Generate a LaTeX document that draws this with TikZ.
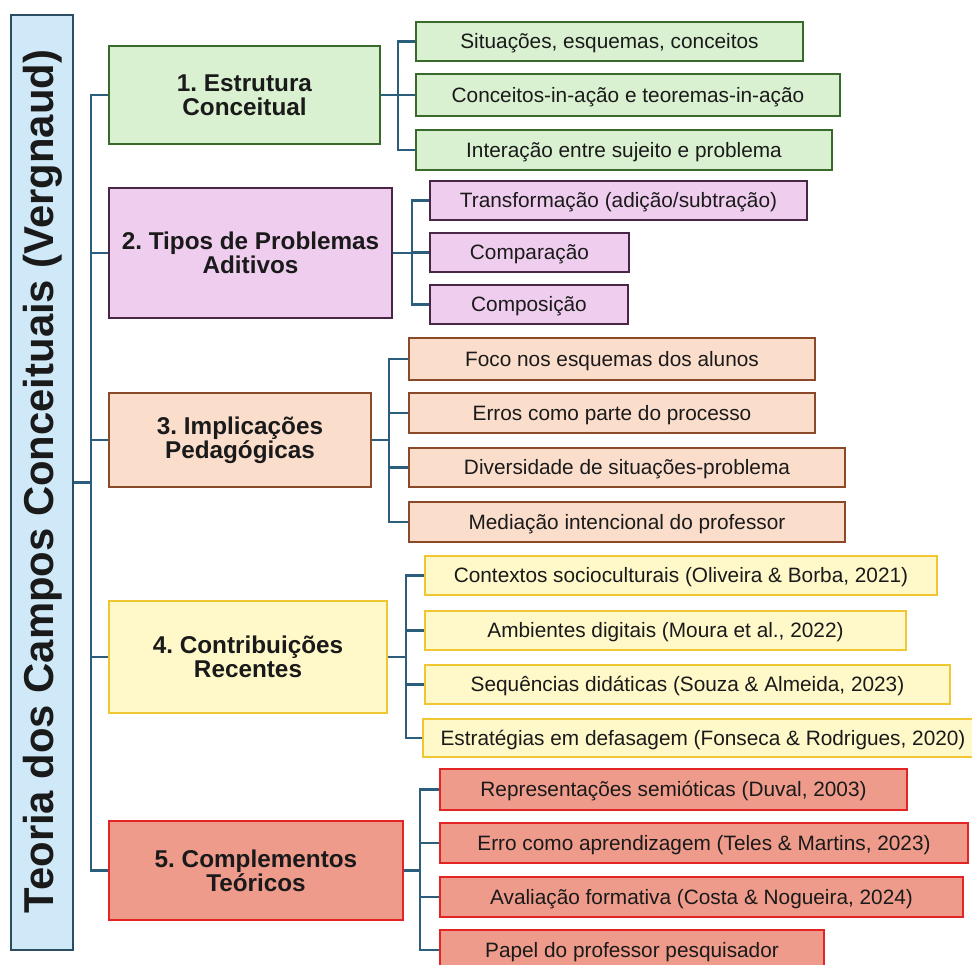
\documentclass[tikz,border=0pt]{standalone}
\usepackage{fontspec}
\setmainfont{Liberation Sans}
\usetikzlibrary{calc}
\frenchspacing

\definecolor{inkc}{HTML}{1A1A1A}
\definecolor{wire}{HTML}{2B5D7C}
\definecolor{rootfill}{HTML}{CFE9F8}
\definecolor{rootedge}{HTML}{2C4C62}
\definecolor{gfill}{HTML}{D9F1D0}
\definecolor{gedge}{HTML}{3A6A2B}
\definecolor{pfill}{HTML}{EFCDEE}
\definecolor{pedge}{HTML}{4A2646}
\definecolor{ofill}{HTML}{FBDDCC}
\definecolor{oedge}{HTML}{8A4A2A}
\definecolor{yfill}{HTML}{FFF9CA}
\definecolor{yedge}{HTML}{F0C632}
\definecolor{rfill}{HTML}{EE9B8B}
\definecolor{redge}{HTML}{E32424}

\tikzset{
  box/.style={rectangle, line width=2.4pt, inner sep=0pt, text=inkc, align=center},
  leaf/.style={box, font=\fontsize{20.8}{24}\selectfont, text height=14.9pt, text depth=0.5pt},
  section/.style={box, font=\bfseries\fontsize{24.3}{24}\selectfont},
  conn/.style={draw=wire, line width=2.4pt},
  green/.style={fill=gfill, draw=gedge},
  violet/.style={fill=pfill, draw=pedge},
  peach/.style={fill=ofill, draw=oedge},
  lemon/.style={fill=yfill, draw=yedge},
  salmon/.style={fill=rfill, draw=redge},
}

% place a box by its left, top, right and bottom edges
\newcommand{\boxat}[7]{%
  \node[#1, minimum width={#5-#3}, minimum height={#6-#4}]
    (#2) at ({(#3+#5)/2},{(#4+#6)/2}) {#7};}

\begin{document}
\begin{tikzpicture}[x=1pt, y=-1pt]
\useasboundingbox[fill=white] (0,0) rectangle (972,965);

% root
\node[box, fill=rootfill, draw=rootedge, minimum width=62, minimum height=935]
  (root) at (42,482.5) {};
\node[rotate=90, text=inkc, font=\bfseries\fontsize{41.8}{42}\selectfont]
  (roottitle) at (42.5,481.5) {Teoria dos Campos Conceituais (Vergnaud)};

% sections
\boxat{section,green}{s1}{109}{46}{380}{144}{1. Estrutura\\Conceitual}
\boxat{section,violet}{s2}{109}{188}{392}{318}{2. Tipos de Problemas\\Aditivos}
\boxat{section,peach}{s3}{109}{393}{371}{487}{3. Implicações\\Pedagógicas}
\boxat{section,lemon}{s4}{109}{601}{387}{713}{4. Contribuições\\Recentes}
\boxat{section,salmon}{s5}{109}{821}{403}{920}{5. Complementos\\Teóricos}

% leaves of section 1
\boxat{leaf,green}{l1a}{416}{22}{803}{61}{Situações, esquemas, conceitos}
\boxat{leaf,green}{l1b}{416}{74}{840}{116}{Conceitos-in-ação e teoremas-in-ação}
\boxat{leaf,green}{l1c}{416}{130}{832}{170}{Interação entre sujeito e problema}

% leaves of section 2
\boxat{leaf,violet}{l2a}{430}{181}{807}{220}{Transformação (adição/subtração)}
\boxat{leaf,violet}{l2b}{430}{233}{629}{272}{Comparação}
\boxat{leaf,violet}{l2c}{430}{285}{628}{324}{Composição}

% leaves of section 3
\boxat{leaf,peach}{l3a}{409}{338}{815}{380}{Foco nos esquemas dos alunos}
\boxat{leaf,peach}{l3b}{409}{393}{815}{433}{Erros como parte do processo}
\boxat{leaf,peach}{l3c}{409}{448}{845}{487}{Diversidade de situações-problema}
\boxat{leaf,peach}{l3d}{409}{502}{845}{542}{Mediação intencional do professor}

% leaves of section 4
\boxat{leaf,lemon}{l4a}{425}{556}{937}{595}{Contextos socioculturais (Oliveira \& Borba, 2021)}
\boxat{leaf,lemon}{l4b}{425}{611}{906}{650}{Ambientes digitais (Moura et al., 2022)}
\boxat{leaf,lemon}{l4c}{425}{665}{950}{704}{Sequências didáticas (Souza \& Almeida, 2023)}
\boxat{leaf,lemon}{l4d}{423}{719}{983}{757}{Estratégias em defasagem (Fonseca \& Rodrigues, 2020)}

% leaves of section 5
\boxat{leaf,salmon}{l5a}{440}{769}{907}{810}{Representações semióticas (Duval, 2003)}
\boxat{leaf,salmon}{l5b}{440}{823}{968}{863}{Erro como aprendizagem (Teles \& Martins, 2023)}
\boxat{leaf,salmon}{l5c}{440}{877}{963}{917}{Avaliação formativa (Costa \& Nogueira, 2024)}
\boxat{leaf,salmon}{l5d}{440}{930}{824}{970}{Papel do professor pesquisador}

% trunk and bracket columns
\coordinate (tr) at (91,0);
\coordinate (b1) at (398,0);
\coordinate (b2) at (412,0);
\coordinate (b3) at (389,0);
\coordinate (b4) at (406,0);
\coordinate (b5) at (420,0);

% root to sections
\draw[conn] (root.east) -- (root.east -| tr);
\foreach \s in {s1,s2,s3,s4,s5}
  \draw[conn] (root.east -| tr) |- (\s.west);

% sections to leaves
\foreach \s/\b/\leaves in {s1/b1/{l1a,l1b,l1c}, s2/b2/{l2a,l2b,l2c},
    s3/b3/{l3a,l3b,l3c,l3d}, s4/b4/{l4a,l4b,l4c,l4d}, s5/b5/{l5a,l5b,l5c,l5d}}
  \foreach \l in \leaves
    \draw[conn] (\s.east) -- (\s.east -| \b) |- (\l.west);

\end{tikzpicture}
\end{document}
